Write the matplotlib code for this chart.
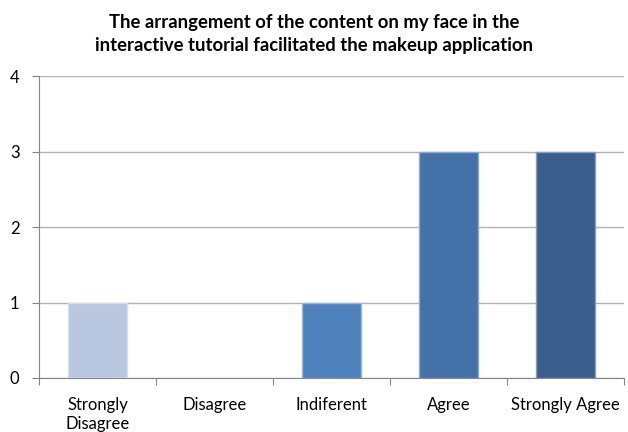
import matplotlib.pyplot as plt
import numpy as np

plt.rcParams['font.family'] = ['Lato', 'DejaVu Sans']

categories = ['Strongly\nDisagree', 'Disagree', 'Indiferent', 'Agree', 'Strongly Agree']
counts = [1, 0, 1, 3, 3]
colors = ['#B9C7E0', '#4F81BD', '#4F81BD', '#4472A8', '#3A5E8C']
edges = ['#D5DEEC', '#9DB6D8', '#9DB6D8', '#8EA9CC', '#8A9FBD']

fig = plt.figure(figsize=(6.28, 4.32), dpi=100)
ax = fig.add_axes([0.062, 0.125, 0.932, 0.699])

x = np.arange(len(categories))
widths = [1 if c > 0 else 0 for c in counts]
ax.bar(x, counts, width=0.5, color=colors, edgecolor=edges, linewidth=widths, zorder=3)

ax.set_xlim(-0.5, len(categories) - 0.5)
ax.set_ylim(0, 4)
ax.set_yticks(range(5))
ax.yaxis.grid(True, color='#B3B3B3', linewidth=1, zorder=0)

# ticks between categories on the x axis
ax.set_xticks(np.arange(-0.5, len(categories), 1.0))
ax.set_xticklabels([])
ax.set_xticks(x, minor=True)
ax.set_xticklabels(categories, minor=True, fontsize=12, va='top', linespacing=1.2)
ax.tick_params(axis='x', which='minor', length=0, pad=14)
ax.tick_params(axis='x', which='major', length=5, color='#868686')
ax.tick_params(axis='y', length=5, color='#868686', labelsize=12, pad=9)

for side in ['top', 'right']:
    ax.spines[side].set_visible(False)
for side in ['left', 'bottom']:
    ax.spines[side].set_color('#868686')

fig.text(0.5, 0.921, 'The arrangement of the content on my face in the\ninteractive tutorial facilitated the makeup application',
         ha='center', va='center', fontsize=13.3, fontweight='bold', linespacing=1.4)

plt.savefig('out.png')
